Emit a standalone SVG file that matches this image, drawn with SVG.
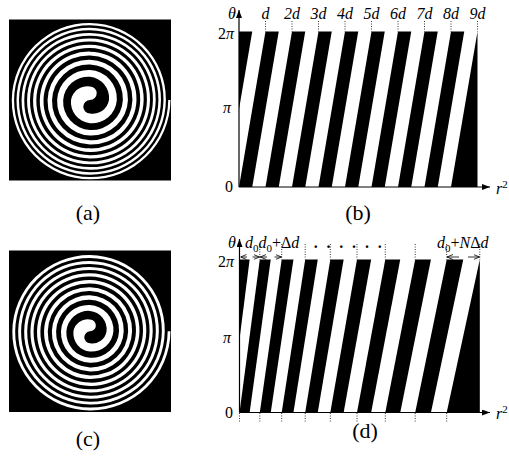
<svg xmlns="http://www.w3.org/2000/svg" width="509" height="457" viewBox="0 0 509 457">
<style>
.t{font-family:"Liberation Serif","Times New Roman",serif;font-size:16px;fill:#000}
.it{font-style:italic}
.cap{font-family:"Liberation Serif","Times New Roman",serif;font-size:22px;fill:#000}
.sub{font-size:11px}
.blk{fill:#000}
.wht{fill:#fff}
.dot{stroke:#000;stroke-width:0.8;stroke-dasharray:1 1.5;fill:none}
.axis{stroke:#000;stroke-width:1.2;fill:none}
.dim{stroke:#000;stroke-width:0.8;fill:none}
</style>
<defs>
<marker id="ah" viewBox="0 0 8 6" refX="8" refY="3" markerWidth="8" markerHeight="6" markerUnits="userSpaceOnUse" orient="auto"><path d="M0,0 L8,3 L0,6 Z" fill="#000"/></marker>
<marker id="oa" viewBox="0 0 6 6" refX="6" refY="3" markerWidth="6" markerHeight="6" markerUnits="userSpaceOnUse" orient="auto"><path d="M0,0.5 L6,3 L0,5.5" stroke="#000" stroke-width="0.8" fill="none"/></marker>
</defs>
<rect width="509" height="457" fill="#fff"/>

<g id="panel-a">
<rect x="9" y="19.5" width="162" height="161" class="blk"/>
<path class="wht" d="M90,100 A6.71,6.71 0 0 0 90,86.58 A16.20,16.20 0 0 0 71.03,100 A21.11,21.11 0 0 0 90,123.24 A25.04,25.04 0 0 0 116.83,100 A28.42,28.42 0 0 0 90,70 A31.43,31.43 0 0 0 57.14,100 A34.18,34.18 0 0 0 90,135.5 A36.73,36.73 0 0 0 127.95,100 A39.10,39.10 0 0 0 90,59.75 A41.34,41.34 0 0 0 47.57,100 A43.47,43.47 0 0 0 90,144.5 A45.49,45.49 0 0 0 136.48,100 A47.43,47.43 0 0 0 90,51.63 A49.29,49.29 0 0 0 39.8,100 A51.08,51.08 0 0 0 90,151.96 A52.82,52.82 0 0 0 143.67,100 A54.50,54.50 0 0 0 90,44.68 A56.12,56.12 0 0 0 33.08,100 A57.70,57.70 0 0 0 90,158.48 A59.24,59.24 0 0 0 150,100 A60.74,60.74 0 0 0 90,38.52 A62.21,62.21 0 0 0 27.07,100 A63.64,63.64 0 0 0 90,164.34 A65.04,65.04 0 0 0 155.73,100 A66.41,66.41 0 0 0 90,32.92 A67.75,67.75 0 0 0 21.59,100 A69.07,69.07 0 0 0 90,169.72 A70.36,70.36 0 0 0 160.99,100 A71.62,71.62 0 0 0 90,27.75 A72.87,72.87 0 0 0 16.51,100 A74.10,74.10 0 0 0 90,174.7 A75.30,75.30 0 0 0 165.9,100 A76.49,76.49 0 0 0 90,22.93 A77.65,77.65 0 0 0 11.77,100 A78.80,78.80 0 0 0 90,179.37 A79.94,79.94 0 0 0 170.5,100 L168.23,100 A77.65,77.65 0 0 1 90,177.07 A76.49,76.49 0 0 1 14.1,100 A75.30,75.30 0 0 1 90,25.3 A74.10,74.10 0 0 1 163.49,100 A72.87,72.87 0 0 1 90,172.25 A71.62,71.62 0 0 1 19.01,100 A70.36,70.36 0 0 1 90,30.28 A69.07,69.07 0 0 1 158.41,100 A67.75,67.75 0 0 1 90,167.08 A66.41,66.41 0 0 1 24.27,100 A65.04,65.04 0 0 1 90,35.66 A63.64,63.64 0 0 1 152.93,100 A62.21,62.21 0 0 1 90,161.48 A60.74,60.74 0 0 1 30,100 A59.24,59.24 0 0 1 90,41.52 A57.70,57.70 0 0 1 146.92,100 A56.12,56.12 0 0 1 90,155.32 A54.50,54.50 0 0 1 36.33,100 A52.82,52.82 0 0 1 90,48.04 A51.08,51.08 0 0 1 140.2,100 A49.29,49.29 0 0 1 90,148.37 A47.43,47.43 0 0 1 43.52,100 A45.49,45.49 0 0 1 90,55.5 A43.47,43.47 0 0 1 132.43,100 A41.34,41.34 0 0 1 90,140.25 A39.10,39.10 0 0 1 52.05,100 A36.73,36.73 0 0 1 90,64.5 A34.18,34.18 0 0 1 122.86,100 A31.43,31.43 0 0 1 90,130 A28.42,28.42 0 0 1 63.17,100 A25.04,25.04 0 0 1 90,76.76 A21.11,21.11 0 0 1 108.97,100 A16.20,16.20 0 0 1 90,113.42 A6.71,6.71 0 0 1 90,100 Z"/>
<text class="cap" x="88" y="220" text-anchor="middle">(a)</text>
</g>

<g id="panel-c">
<rect x="9" y="250.5" width="162" height="161.5" class="blk"/>
<path class="wht" d="M90,331.3 A5.85,5.85 0 0 0 90,319.6 A14.12,14.12 0 0 0 73.46,331.3 A18.40,18.40 0 0 0 90,351.56 A21.83,21.83 0 0 0 113.4,331.3 A24.88,24.88 0 0 0 90,304.94 A27.70,27.70 0 0 0 60.97,331.3 A30.25,30.25 0 0 0 90,362.77 A32.61,32.61 0 0 0 123.74,331.3 A34.88,34.88 0 0 0 90,295.29 A37.08,37.08 0 0 0 51.86,331.3 A39.16,39.16 0 0 0 90,371.47 A41.13,41.13 0 0 0 132.09,331.3 A43.08,43.08 0 0 0 90,287.24 A45.00,45.00 0 0 0 44.06,331.3 A46.84,46.84 0 0 0 90,379.04 A48.61,48.61 0 0 0 139.48,331.3 A50.38,50.38 0 0 0 90,280.03 A52.14,52.14 0 0 0 37,331.3 A53.84,53.84 0 0 0 90,385.97 A55.48,55.48 0 0 0 146.29,331.3 A57.13,57.13 0 0 0 90,273.34 A58.77,58.77 0 0 0 30.42,331.3 A60.37,60.37 0 0 0 90,392.46 A61.93,61.93 0 0 0 152.7,331.3 A63.50,63.50 0 0 0 90,267.01 A65.07,65.07 0 0 0 24.16,331.3 A66.60,66.60 0 0 0 90,398.65 A68.09,68.09 0 0 0 158.83,331.3 A69.60,69.60 0 0 0 90,260.94 A71.11,71.11 0 0 0 18.15,331.3 A72.59,72.59 0 0 0 90,404.62 A74.04,74.04 0 0 0 164.75,331.3 A75.49,75.49 0 0 0 90,255.07 A76.96,76.96 0 0 0 12.32,331.3 A78.39,78.39 0 0 0 90,410.4 A79.80,79.80 0 0 0 170.5,331.3 L167.68,331.3 A76.97,76.97 0 0 1 90,407.56 A75.54,75.54 0 0 1 15.18,331.3 A74.09,74.09 0 0 1 90,257.95 A72.60,72.60 0 0 1 161.85,331.3 A71.13,71.13 0 0 1 90,401.7 A69.66,69.66 0 0 1 21.09,331.3 A68.15,68.15 0 0 1 90,263.91 A66.62,66.62 0 0 1 155.84,331.3 A65.09,65.09 0 0 1 90,395.63 A63.56,63.56 0 0 1 27.21,331.3 A62.00,62.00 0 0 1 90,270.09 A60.40,60.40 0 0 1 149.58,331.3 A58.80,58.80 0 0 1 90,389.31 A57.20,57.20 0 0 1 33.61,331.3 A55.56,55.56 0 0 1 90,276.58 A53.86,53.86 0 0 1 143,331.3 A52.16,52.16 0 0 1 90,382.62 A50.46,50.46 0 0 1 40.41,331.3 A48.70,48.70 0 0 1 90,283.5 A46.87,46.87 0 0 1 135.94,331.3 A45.03,45.03 0 0 1 90,375.42 A43.17,43.17 0 0 1 47.78,331.3 A41.23,41.23 0 0 1 90,291.07 A39.19,39.19 0 0 1 128.14,331.3 A37.11,37.11 0 0 1 90,367.38 A34.99,34.99 0 0 1 56.11,331.3 A32.73,32.73 0 0 1 90,299.74 A30.30,30.30 0 0 1 119.03,331.3 A27.75,27.75 0 0 1 90,357.77 A25.05,25.05 0 0 1 66.37,331.3 A22.02,22.02 0 0 1 90,310.9 A18.47,18.47 0 0 1 106.54,331.3 A14.24,14.24 0 0 1 90,343.23 A5.97,5.97 0 0 1 90,331.3 Z"/>
<text class="cap" x="88" y="446" text-anchor="middle">(c)</text>
</g>

<g id="panel-b">
<g class="blk">
<polygon points="239,109.25 252.25,31.5 239,31.5"/>
<polygon points="239,187 252.25,187 278.75,31.5 265.5,31.5"/>
<polygon points="265.5,187 278.75,187 305.25,31.5 292,31.5"/>
<polygon points="292,187 305.25,187 331.75,31.5 318.5,31.5"/>
<polygon points="318.5,187 331.75,187 358.25,31.5 345,31.5"/>
<polygon points="345,187 358.25,187 384.75,31.5 371.5,31.5"/>
<polygon points="371.5,187 384.75,187 411.25,31.5 398,31.5"/>
<polygon points="398,187 411.25,187 437.75,31.5 424.5,31.5"/>
<polygon points="424.5,187 437.75,187 464.25,31.5 451,31.5"/>
<polygon points="451,187 477.5,187 477.5,31.5"/>
</g>
<g class="dot">
<line x1="265.5" y1="21" x2="265.5" y2="31.5"/><line x1="292" y1="21" x2="292" y2="31.5"/><line x1="318.5" y1="21" x2="318.5" y2="31.5"/><line x1="345" y1="21" x2="345" y2="31.5"/><line x1="371.5" y1="21" x2="371.5" y2="31.5"/><line x1="398" y1="21" x2="398" y2="31.5"/><line x1="424.5" y1="21" x2="424.5" y2="31.5"/><line x1="451" y1="21" x2="451" y2="31.5"/><line x1="477.5" y1="21" x2="477.5" y2="31.5"/>
</g>
<g class="t it" text-anchor="middle">
<text x="265.5" y="19">d</text><text x="292" y="19">2d</text><text x="318.5" y="19">3d</text><text x="345" y="19">4d</text><text x="371.5" y="19">5d</text><text x="398" y="19">6d</text><text x="424.5" y="19">7d</text><text x="451" y="19">8d</text><text x="477.5" y="19">9d</text>
</g>
<text class="t it" x="232" y="19" text-anchor="middle">θ</text>
<text class="t" x="234" y="39" text-anchor="end">2<tspan class="it">π</tspan></text>
<text class="t it" x="231" y="113" text-anchor="end">π</text>
<text class="t" x="233" y="192" text-anchor="end">0</text>
<text class="t it" x="496" y="194">r<tspan class="sub" dy="-6" font-style="normal">2</tspan></text>
<text class="cap" x="358" y="220" text-anchor="middle">(b)</text>
</g>

<g id="panel-d">
<g class="blk">
<polygon points="239.5,339.14 249.65,259.5 239.5,259.5"/>
<polygon points="239.5,412.5 249.65,412.5 270.75,259.5 259.8,259.5"/>
<polygon points="259.8,412.5 270.75,412.5 293.45,259.5 281.7,259.5"/>
<polygon points="281.7,412.5 293.45,412.5 317.75,259.5 305.2,259.5"/>
<polygon points="305.2,412.5 317.75,412.5 343.65,259.5 330.3,259.5"/>
<polygon points="330.3,412.5 343.65,412.5 371.15,259.5 357,259.5"/>
<polygon points="357,412.5 371.15,412.5 400.25,259.5 385.3,259.5"/>
<polygon points="385.3,412.5 400.25,412.5 430.95,259.5 415.2,259.5"/>
<polygon points="415.2,412.5 430.95,412.5 463.25,259.5 446.7,259.5"/>
<polygon points="446.7,412.5 479.8,412.5 479.8,259.5"/>
</g>
<g class="dot">
<line x1="259.8" y1="244" x2="259.8" y2="259.5"/><line x1="281.7" y1="244" x2="281.7" y2="259.5"/><line x1="305.2" y1="244" x2="305.2" y2="259.5"/><line x1="330.3" y1="244" x2="330.3" y2="259.5"/><line x1="357" y1="244" x2="357" y2="259.5"/><line x1="385.3" y1="244" x2="385.3" y2="259.5"/><line x1="415.2" y1="244" x2="415.2" y2="259.5"/><line x1="446.7" y1="244" x2="446.7" y2="259.5"/><line x1="479.8" y1="244" x2="479.8" y2="259.5"/>
<line x1="239.5" y1="413" x2="239.5" y2="423"/><line x1="259.8" y1="413" x2="259.8" y2="423"/><line x1="281.7" y1="413" x2="281.7" y2="423"/><line x1="305.2" y1="413" x2="305.2" y2="423"/><line x1="330.3" y1="413" x2="330.3" y2="423"/><line x1="357" y1="413" x2="357" y2="423"/><line x1="385.3" y1="413" x2="385.3" y2="423"/><line x1="415.2" y1="413" x2="415.2" y2="423"/><line x1="446.7" y1="413" x2="446.7" y2="423"/>
</g>
<text class="t it" x="232" y="248" text-anchor="middle">θ</text>
<text class="t" x="245" y="248"><tspan class="it">d</tspan><tspan class="sub" dy="3.5">0</tspan><tspan class="it" dy="-3.5">d</tspan><tspan class="sub" dy="3.5">0</tspan><tspan dy="-3.5">+Δ</tspan><tspan class="it">d</tspan></text>
<text class="t" x="313.7" y="248" font-size="18" font-weight="bold" letter-spacing="8.8">......</text>
<text class="t" x="437" y="248"><tspan class="it">d</tspan><tspan class="sub" dy="3.5">0</tspan><tspan dy="-3.5">+</tspan><tspan class="it">N</tspan><tspan>Δ</tspan><tspan class="it">d</tspan></text>
<text class="t" x="234" y="267" text-anchor="end">2<tspan class="it">π</tspan></text>
<text class="t it" x="231" y="343" text-anchor="end">π</text>
<text class="t" x="233" y="418" text-anchor="end">0</text>
<text class="t it" x="496" y="419">r<tspan class="sub" dy="-6" font-style="normal">2</tspan></text>
<text class="cap" x="365" y="438" text-anchor="middle">(d)</text>
</g>

<g id="connectors">
<line class="axis" x1="239" y1="187" x2="239" y2="10" marker-end="url(#ah)"/>
<line class="axis" x1="239" y1="187" x2="490" y2="187" marker-end="url(#ah)"/>
<line class="axis" x1="239.5" y1="412.5" x2="239.5" y2="239" marker-end="url(#ah)"/>
<line class="axis" x1="239.5" y1="412.5" x2="490" y2="412.5" marker-end="url(#ah)"/>
<g class="dim">
<line x1="247" y1="257" x2="240.5" y2="257" marker-end="url(#oa)"/>
<line x1="252.5" y1="257" x2="259.5" y2="257" marker-end="url(#oa)"/>
<line x1="267" y1="257" x2="260.2" y2="257" marker-end="url(#oa)"/>
<line x1="274.5" y1="257" x2="281.5" y2="257" marker-end="url(#oa)"/>
<line x1="459" y1="257" x2="447" y2="257" marker-end="url(#oa)"/>
<line x1="468" y1="257" x2="479.5" y2="257" marker-end="url(#oa)"/>
</g>
</g>
</svg>
